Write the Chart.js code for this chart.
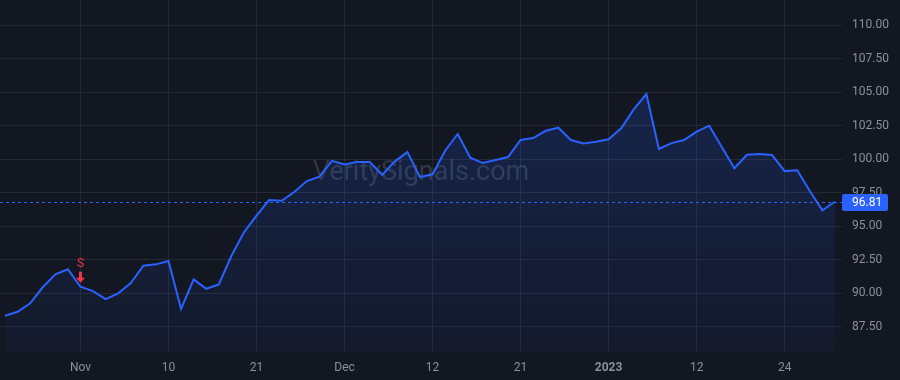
<!DOCTYPE html>
<html>
<head>
<meta charset="utf-8">
<script src="https://cdn.jsdelivr.net/npm/chart.js@4.4.1/dist/chart.umd.min.js"></script>
<style>
  html, body { margin: 0; padding: 0; background: #131722; }
  #wrap { width: 900px; height: 380px; position: relative; }
</style>
</head>
<body>
<div id="wrap"><canvas id="priceChart"></canvas></div>
<script>
// trading days, Oct 24 2022 - Jan 30 2023
const dates = [
  '2022-10-24','2022-10-25','2022-10-26','2022-10-27','2022-10-28','2022-10-31',
  '2022-11-01','2022-11-02','2022-11-03','2022-11-04','2022-11-07','2022-11-08',
  '2022-11-09','2022-11-10','2022-11-11','2022-11-14','2022-11-15','2022-11-16',
  '2022-11-17','2022-11-18','2022-11-21','2022-11-22','2022-11-23','2022-11-25',
  '2022-11-28','2022-11-29','2022-11-30','2022-12-01','2022-12-02','2022-12-05',
  '2022-12-06','2022-12-07','2022-12-08','2022-12-09','2022-12-12','2022-12-13',
  '2022-12-14','2022-12-15','2022-12-16','2022-12-19','2022-12-20','2022-12-21',
  '2022-12-22','2022-12-23','2022-12-27','2022-12-28','2022-12-29','2022-12-30',
  '2023-01-03','2023-01-04','2023-01-05','2023-01-06','2023-01-09','2023-01-10',
  '2023-01-11','2023-01-12','2023-01-13','2023-01-17','2023-01-18','2023-01-19',
  '2023-01-20','2023-01-23','2023-01-24','2023-01-25','2023-01-26','2023-01-27',
  '2023-01-30'
];

const prices = [
  88.31, 88.60, 89.23, 90.43, 91.40, 91.77, 90.47, 90.15, 89.55, 89.98,
  90.75, 92.04, 92.14, 92.39, 88.81, 91.02, 90.32, 90.65, 92.76, 94.53,
  95.77, 96.94, 96.89, 97.54, 98.36, 98.68, 99.87, 99.60, 99.78, 99.78,
  98.83, 99.83, 100.52, 98.66, 98.86, 100.62, 101.87, 100.10, 99.70, 99.93,
  100.15, 101.42, 101.57, 102.11, 102.34, 101.42, 101.17, 101.29, 101.47, 102.29,
  103.71, 104.85, 100.75, 101.19, 101.42, 102.04, 102.49, 100.90, 99.31, 100.32,
  100.37, 100.30, 99.10, 99.16, 97.61, 96.17, 96.81
];

// x tick positions (index into dates) and their labels
const tickIndex = [6, 13, 20, 27, 34, 41, 48, 55, 62];
const tickLabels = ['Nov', '10', '21', 'Dec', '12', '21', '2023', '12', '24'];

const lastPrice = 96.81;
const signalIndex = 6;
const signalText = 'S';

const BLUE = '#2962ff';
const RED = '#f23645';
const GRID = '#242936';
const TEXT = '#8c909b';
const FONT = 'Roboto, "Liberation Sans", sans-serif';

// watermark, last price line + badge, sell marker
const overlay = {
  id: 'overlay',
  beforeDatasetsDraw(chart) {
    const { ctx } = chart;
    ctx.save();
    ctx.font = '27px ' + FONT;
    ctx.fillStyle = 'rgba(150,155,170,0.24)';
    ctx.textAlign = 'center';
    ctx.textBaseline = 'middle';
    ctx.fillText('VeritySignals.com', 421, 173);
    ctx.restore();
  },
  afterDatasetsDraw(chart) {
    const { ctx, chartArea, scales } = chart;
    const y = scales.y.getPixelForValue(lastPrice);
    ctx.save();
    ctx.strokeStyle = BLUE;
    ctx.lineWidth = 1;
    ctx.setLineDash([3, 3]);
    ctx.beginPath();
    ctx.moveTo(chartArea.left, Math.round(y) + 0.5);
    ctx.lineTo(chartArea.right, Math.round(y) + 0.5);
    ctx.stroke();
    ctx.setLineDash([]);

    // signal arrow
    const sx = scales.x.getPixelForValue(signalIndex);
    const sy = scales.y.getPixelForValue(prices[signalIndex]);
    ctx.fillStyle = RED;
    ctx.fillRect(sx - 1.5, sy - 15, 3, 7);
    ctx.beginPath();
    ctx.moveTo(sx - 4.5, sy - 9);
    ctx.lineTo(sx + 4.5, sy - 9);
    ctx.lineTo(sx, sy - 4);
    ctx.closePath();
    ctx.fill();
    ctx.font = '12px ' + FONT;
    ctx.textAlign = 'center';
    ctx.textBaseline = 'middle';
    ctx.fillText(signalText, sx, sy - 23);
    ctx.restore();
  },
  afterDraw(chart) {
    const { ctx, chartArea, scales } = chart;
    const y = scales.y.getPixelForValue(lastPrice);
    ctx.save();
    ctx.fillStyle = BLUE;
    ctx.beginPath();
    ctx.roundRect(chartArea.right, Math.round(y) - 8, 46, 17, 2);
    ctx.fill();
    ctx.fillStyle = '#ffffff';
    ctx.font = '12px ' + FONT;
    ctx.textAlign = 'left';
    ctx.textBaseline = 'middle';
    ctx.fillText(lastPrice.toFixed(2), chartArea.right + 10, Math.round(y) + 1);
    ctx.restore();
  }
};

const ctx = document.getElementById('priceChart');

new Chart(ctx, {
  type: 'line',
  data: {
    datasets: [{
      label: 'Price',
      data: prices.map((p, i) => ({ x: i, y: p })),
      borderColor: BLUE,
      borderWidth: 2,
      pointRadius: 0,
      tension: 0,
      fill: 'start',
      backgroundColor(c) {
        const area = c.chart.chartArea;
        if (!area) return 'rgba(41,98,255,0.15)';
        const g = c.chart.ctx.createLinearGradient(0, area.top, 0, area.bottom);
        g.addColorStop(0, 'rgba(41,98,255,0.24)');
        g.addColorStop(1, 'rgba(41,98,255,0.04)');
        return g;
      }
    }]
  },
  options: {
    responsive: true,
    maintainAspectRatio: false,
    animation: false,
    layout: { padding: 0 },
    plugins: {
      legend: { display: false },
      tooltip: { enabled: false }
    },
    scales: {
      x: {
        type: 'linear',
        min: -0.4,
        max: prices.length - 1 + 0.56,
        afterBuildTicks(axis) {
          axis.ticks = tickIndex.map(v => ({ value: v }));
        },
        afterFit(axis) {
          axis.height = 28;
          axis.paddingLeft = 0;
          axis.paddingRight = 0;
        },
        grid: { color: GRID, drawTicks: false },
        border: { display: false },
        ticks: {
          padding: 9,
          color: TEXT,
          maxRotation: 0,
          autoSkip: false,
          font(c) {
            const bold = c.tick && tickIndex.indexOf(c.tick.value) === tickLabels.indexOf('2023');
            return { family: FONT, size: 12, weight: bold ? 'bold' : 'normal' };
          },
          callback(v) {
            const k = tickIndex.indexOf(v);
            return k >= 0 ? tickLabels[k] : '';
          }
        }
      },
      y: {
        position: 'right',
        min: 85.6,
        max: 111.87,
        afterFit(axis) {
          axis.width = 58;
          axis.paddingTop = 0;
          axis.paddingBottom = 0;
        },
        grid: { color: GRID, drawTicks: false },
        border: { display: false },
        ticks: {
          stepSize: 2.5,
          includeBounds: false,
          padding: 10,
          color: TEXT,
          font: { family: FONT, size: 12 },
          callback: v => v.toFixed(2)
        }
      }
    }
  },
  plugins: [overlay]
});
</script>
</body>
</html>
